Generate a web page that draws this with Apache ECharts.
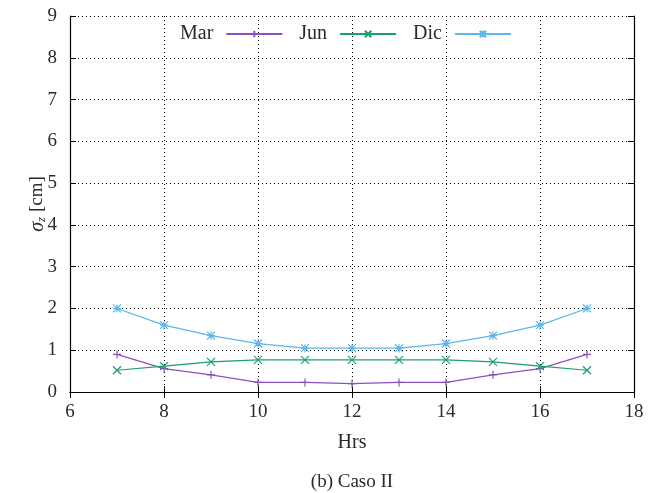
<!DOCTYPE html>
<html><head><meta charset="utf-8">
<script src="https://cdn.jsdelivr.net/npm/echarts@6/dist/echarts.min.js"></script>
<style>html,body{margin:0;padding:0;background:#fff}#c{width:654px;height:493px}</style>
</head><body><div id="c"></div>
<script>
var hours = [7, 8, 9, 10, 11, 12, 13, 14, 15, 16, 17];
var marValues = [0.9, 0.56, 0.41, 0.23, 0.23, 0.2, 0.23, 0.23, 0.41, 0.56, 0.9];
var junValues = [0.52, 0.62, 0.72, 0.77, 0.77, 0.77, 0.77, 0.77, 0.72, 0.62, 0.52];
var dicValues = [2.0, 1.6, 1.35, 1.16, 1.05, 1.05, 1.05, 1.16, 1.35, 1.6, 2.0];
var seriesNames = ['Mar', 'Jun', 'Dic'];

var FONT = 'Liberation Serif';
var TXT = '#2a2a2a';
var colors = ['#8f4fbf', '#1a9e76', '#5cb6e8'];
var symbols = [
  'path://M0 5L10 5M5 0L5 10',
  'path://M0 0L10 10M0 10L10 0',
  'path://M0 0L10 10M0 10L10 0M0 5L10 5M5 0L5 10'
];
function pair(xs, ys){ return xs.map(function(x,i){ return [x, ys[i]]; }); }
var allValues = [marValues, junValues, dicValues];

var chart = echarts.init(document.getElementById('c'), null, {renderer:'canvas'});
var axisLineStyle = {show:true, lineStyle:{color:'#000', width:1.2}};
var tick = {show:true, inside:true, length:6, lineStyle:{color:'#000'}};
chart.setOption({
  animation:false,
  color: colors,
  grid:{left:70, right:20, top:16, bottom:101},
  legend:{
    top:19, left:175, itemGap:16, itemWidth:56, itemHeight:8, align:'right',
    textStyle:{fontFamily:FONT, fontSize:20, color:TXT, padding:[0,8,0,0]},
    data: seriesNames
  },
  xAxis:[{
    type:'value', min:6, max:18, interval:2, position:'bottom',
    name:'Hrs', nameLocation:'middle', nameGap:41,
    nameTextStyle:{fontFamily:FONT, fontSize:20, color:TXT},
    axisLine:axisLineStyle, axisTick:tick,
    axisLabel:{fontFamily:FONT, fontSize:19, color:TXT, margin:11},
    splitLine:{show:true, lineStyle:{type:[1,3], color:'#000', width:1}}
  },{
    type:'value', min:6, max:18, interval:2, position:'top',
    axisLine:axisLineStyle, axisTick:tick,
    axisLabel:{show:false}, splitLine:{show:false}
  }],
  yAxis:[{
    type:'value', min:0, max:9, interval:1, position:'left',
    name:'{s|σ}{z|z} [cm]', nameLocation:'middle', nameGap:22, nameRotate:90,
    nameMoveOverlap:false,
    nameTextStyle:{fontFamily:FONT, fontSize:19, color:TXT,
      rich:{s:{fontFamily:FONT, fontStyle:'italic', fontSize:20, color:TXT},
            z:{fontFamily:FONT, fontStyle:'italic', fontSize:13, color:TXT, padding:[8,0,0,0]}}},
    axisLine:axisLineStyle, axisTick:tick,
    axisLabel:{fontFamily:FONT, fontSize:19, color:TXT, margin:13},
    splitLine:{show:true, lineStyle:{type:[1,3], color:'#000', width:1}}
  },{
    type:'value', min:0, max:9, interval:1, position:'right',
    axisLine:axisLineStyle, axisTick:tick,
    axisLabel:{show:false}, splitLine:{show:false}
  }],
  graphic:[{
    type:'text', x:352, y:482,
    style:{text:'(b) Caso II', font:'19px "Liberation Serif"', fill:TXT, textAlign:'center', textVerticalAlign:'middle'}
  }],
  series: seriesNames.map(function(n,i){
    return {
      name:n, type:'line', data:pair(hours, allValues[i]),
      symbol:symbols[i], symbolSize:8, showSymbol:true,
      lineStyle:{width:1.2, color:colors[i]},
      itemStyle:{color:'rgba(0,0,0,0)', borderColor:colors[i], borderWidth:1.2},
      emphasis:{disabled:true}
    };
  })
});
</script></body></html>
